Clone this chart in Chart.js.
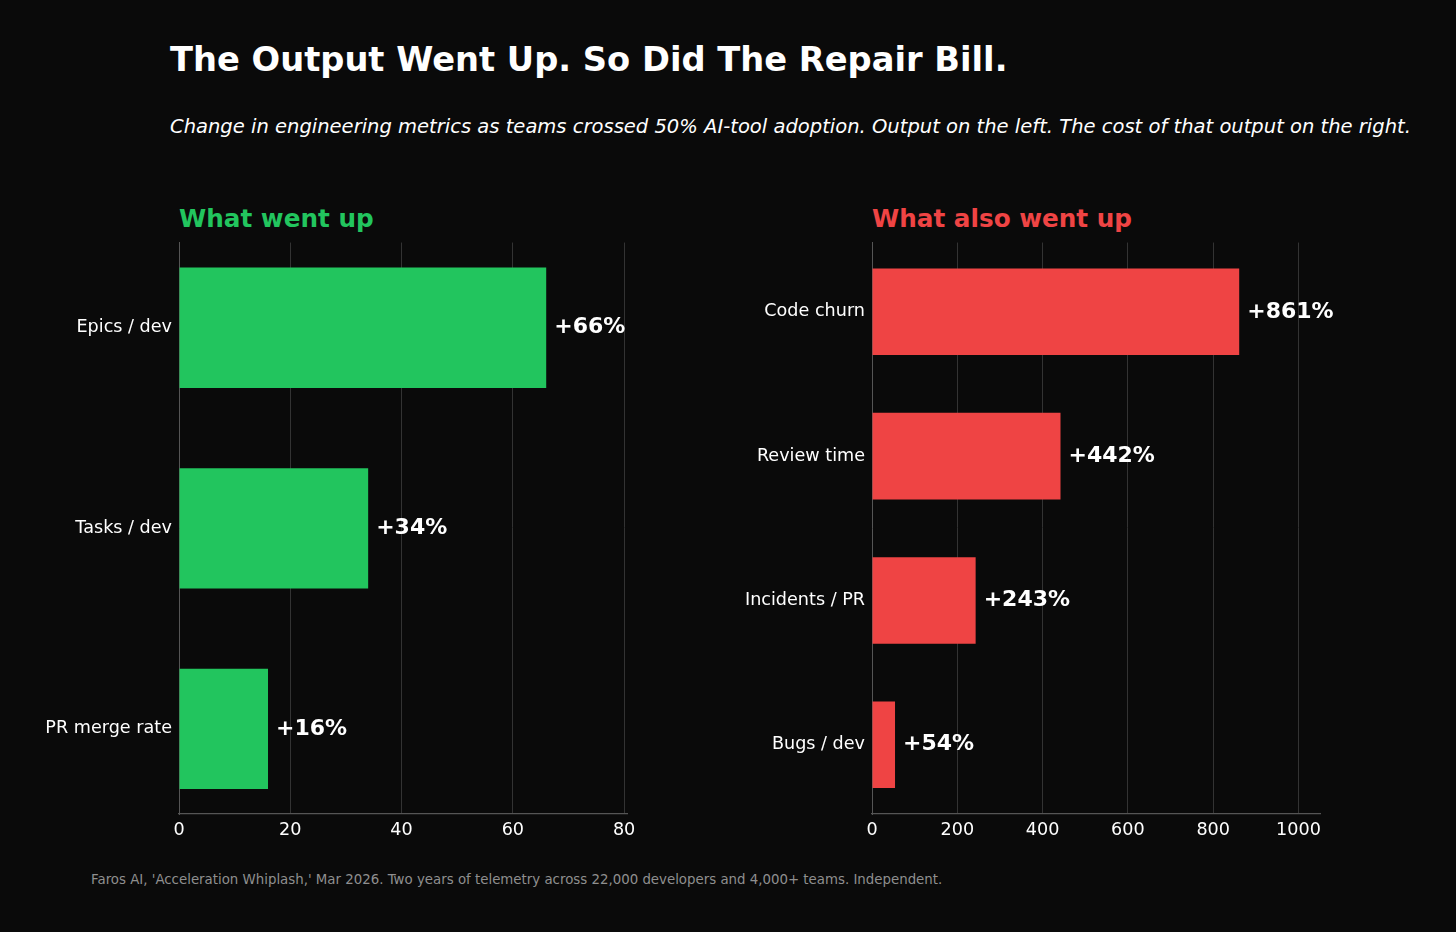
<!DOCTYPE html>
<html>
<head>
<meta charset="utf-8">
<script src="https://cdn.jsdelivr.net/npm/chart.js@4.4.1/dist/chart.umd.min.js"></script>
<style>
  html, body { margin: 0; padding: 0; background: #0a0a0a; }
  #page { position: relative; width: 1456px; height: 932px; background: #0a0a0a; overflow: hidden; font-family: "DejaVu Sans", sans-serif; }
  .txt { position: absolute; white-space: nowrap; line-height: 1; }
  #title { left: 170px; top: 43px; font-size: 33.7px; font-weight: bold; color: #fff; }
  #subtitle { left: 170px; top: 117px; font-size: 19.55px; font-style: italic; color: #fff; }
  #headLeft { left: 179px; top: 207px; font-size: 24.7px; font-weight: bold; color: #22c55e; }
  #headRight { left: 872px; top: 207px; font-size: 24.7px; font-weight: bold; color: #ef4444; }
  #footer { left: 91px; top: 873px; font-size: 13.35px; color: #8f8f8f; }
  canvas { position: absolute; }
  #leftChart { left: 0; top: 225px; }
  #rightChart { left: 700px; top: 225px; }
</style>
</head>
<body>
<div id="page">
  <div class="txt" id="title">The Output Went Up. So Did The Repair Bill.</div>
  <div class="txt" id="subtitle">Change in engineering metrics as teams crossed 50% AI-tool adoption. Output on the left. The cost of that output on the right.</div>
  <div class="txt" id="headLeft">What went up</div>
  <div class="txt" id="headRight">What also went up</div>
  <canvas id="leftChart" width="700" height="635"></canvas>
  <canvas id="rightChart" width="756" height="635"></canvas>
  <div class="txt" id="footer">Faros AI, 'Acceleration Whiplash,' Mar 2026. Two years of telemetry across 22,000 developers and 4,000+ teams. Independent.</div>
</div>
<script>
// Left panel: output metrics (% change)
const leftCategories = ['Epics / dev', 'Tasks / dev', 'PR merge rate'];
const leftValues = [66, 34, 16];
const leftTicks = [0, 20, 40, 60, 80];

// Right panel: cost metrics (% change)
const rightCategories = ['Code churn', 'Review time', 'Incidents / PR', 'Bugs / dev'];
const rightValues = [861, 442, 243, 54];
const rightTicks = [0, 200, 400, 600, 800, 1000];

Chart.defaults.font.family = '"DejaVu Sans", sans-serif';
Chart.defaults.color = '#ffffff';

// Draw "+66%" style labels just past the end of each bar
const valueLabels = {
  id: 'valueLabels',
  afterDatasetsDraw(chart) {
    const ctx = chart.ctx;
    const meta = chart.getDatasetMeta(0);
    const vals = chart.data.datasets[0].data;
    ctx.save();
    ctx.font = 'bold 22px "DejaVu Sans"';
    ctx.fillStyle = '#ffffff';
    ctx.textAlign = 'left';
    ctx.textBaseline = 'middle';
    meta.data.forEach((bar, i) => {
      ctx.fillText('+' + vals[i].x + '%', bar.x + 8, bar.y);
    });
    ctx.restore();
  }
};

function makePanel(canvasId, categories, values, ticks, color, axisWidth, padRight) {
  const n = categories.length;
  const margin = n === 3 ? 0.425 : 0.48;
  return new Chart(document.getElementById(canvasId), {
    type: 'bar',
    data: {
      datasets: [{
        data: values.map((v, i) => ({ x: v, y: i })),
        backgroundColor: color,
        borderWidth: 0,
        barPercentage: 0.6,
        categoryPercentage: 1.0
      }]
    },
    options: {
      indexAxis: 'y',
      responsive: false,
      animation: false,
      devicePixelRatio: 1,
      layout: { padding: { top: 8, right: padRight, bottom: 0, left: 0 } },
      plugins: { legend: { display: false }, tooltip: { enabled: false } },
      scales: {
        x: {
          type: 'linear',
          min: 0,
          max: Math.max(...values) * 1.22,
          afterBuildTicks: s => { s.ticks = ticks.map(v => ({ value: v })); },
          afterFit: s => { s.height = 46; },
          grid: { color: '#333333', lineWidth: 1, drawTicks: false },
          border: { display: true, color: '#555555', width: 1.2 },
          ticks: { color: '#ffffff', font: { size: 17.6 }, padding: 6, callback: v => String(v) }
        },
        y: {
          type: 'linear',
          reverse: true,
          offset: false,
          min: -margin,
          max: n - 1 + margin,
          afterBuildTicks: s => { s.ticks = categories.map((c, i) => ({ value: i })); },
          afterFit: s => { s.width = axisWidth; },
          grid: { display: false, drawTicks: false, tickLength: 0 },
          border: { display: true, color: '#555555', width: 1 },
          ticks: {
            color: '#ffffff',
            font: { size: 17.6 },
            padding: 7,
            callback: v => categories[v]
          }
        }
      }
    },
    plugins: [valueLabels]
  });
}

makePanel('leftChart', leftCategories, leftValues, leftTicks, '#22c55e', 179, 73);
makePanel('rightChart', rightCategories, rightValues, rightTicks, '#ef4444', 172, 136);
</script>
</body>
</html>
